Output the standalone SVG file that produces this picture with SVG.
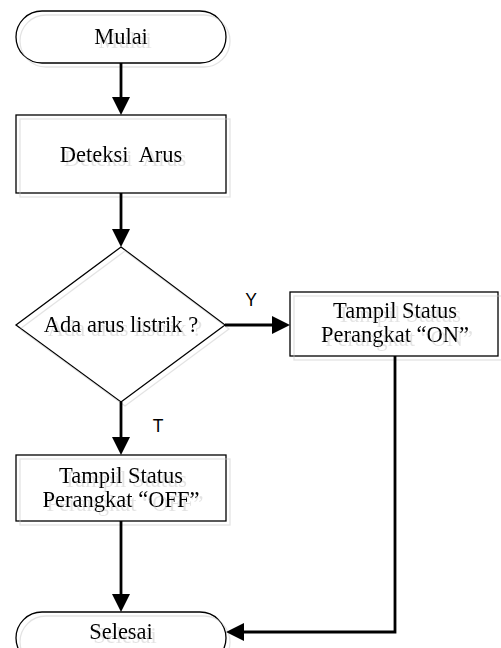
<svg xmlns="http://www.w3.org/2000/svg" width="501" height="648" viewBox="0 0 501 648">
  <defs>
    <!-- faint offset ghost behind every node (outline and text) -->
    <filter id="ghost" x="-10%" y="-10%" width="120%" height="130%">
      <feOffset in="SourceAlpha" dx="4" dy="4" result="off"/>
      <feFlood flood-color="#c8c8c8" flood-opacity="0.5"/>
      <feComposite in2="off" operator="in" result="shade"/>
      <feMerge>
        <feMergeNode in="shade"/>
        <feMergeNode in="SourceGraphic"/>
      </feMerge>
    </filter>
    <marker id="arrow" markerUnits="userSpaceOnUse" markerWidth="20" markerHeight="20"
            refX="8" refY="9" orient="auto">
      <path d="M0,0 L18,9 L0,18 z" fill="#000"/>
    </marker>
  </defs>
  <style>
    .shape { fill: none; stroke: #000; stroke-width: 1.3; }
    .label { font-family: "Liberation Serif", "Times New Roman", serif; font-size: 22.5px; fill: #000; text-anchor: middle; }
    .branch { font-family: "Liberation Sans", Arial, sans-serif; font-size: 17.5px; fill: #000; text-anchor: middle; }
    .link { fill: none; stroke: #000; stroke-width: 2.8; marker-end: url(#arrow); }
  </style>
  <rect width="501" height="648" fill="#fff"/>

  <g id="start" filter="url(#ghost)">
    <rect class="shape" x="16" y="11" width="210" height="52" rx="26" ry="26"/>
    <text class="label" x="121" y="44">Mulai</text>
  </g>

  <g id="detect" filter="url(#ghost)">
    <rect class="shape" x="16" y="115" width="210" height="78"/>
    <text class="label" x="121" y="162" xml:space="preserve">Deteksi  Arus</text>
  </g>

  <g id="decision" filter="url(#ghost)">
    <polygon class="shape" points="121,247 225,325 121,402 16,325"/>
    <text class="label" x="121" y="332">Ada arus listrik ?</text>
  </g>

  <g id="status-on" filter="url(#ghost)">
    <rect class="shape" x="290" y="292" width="208" height="64"/>
    <text class="label" x="395" y="318">Tampil Status</text>
    <text class="label" x="395" y="342">Perangkat “ON”</text>
  </g>

  <g id="status-off" filter="url(#ghost)">
    <rect class="shape" x="16" y="455" width="210" height="66"/>
    <text class="label" x="121" y="483">Tampil Status</text>
    <text class="label" x="121" y="507">Perangkat “OFF”</text>
  </g>

  <g id="end" filter="url(#ghost)">
    <rect class="shape" x="16" y="612" width="210" height="52" rx="26" ry="26"/>
    <text class="label" x="121" y="639">Selesai</text>
  </g>

  <g id="connectors">
    <path class="link" d="M121,63 V105"/>
    <path class="link" d="M121,193 V237"/>
    <path class="link" d="M225,325 H280"/>
    <path class="link" d="M121,402 V445"/>
    <path class="link" d="M121,521 V602"/>
    <path class="link" d="M395,356 V632 H236"/>
    <text class="branch" x="251" y="306">Y</text>
    <text class="branch" x="158" y="432">T</text>
  </g>
</svg>
